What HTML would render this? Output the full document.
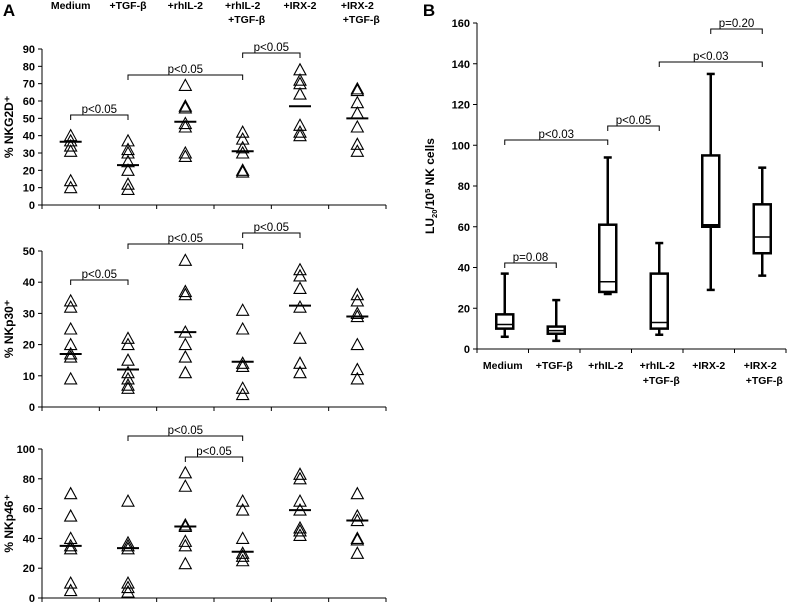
<!DOCTYPE html>
<html><head><meta charset="utf-8"><style>
body{margin:0;background:#fff;width:787px;height:602px;overflow:hidden}
svg{font-family:"Liberation Sans",sans-serif}
</style></head><body>
<svg id="s" width="787" height="602" viewBox="0 0 787 602" xmlns="http://www.w3.org/2000/svg"></svg>
<script>
const categories=["Medium","+TGF-β","+rhIL-2","+rhIL-2|+TGF-β","+IRX-2","+IRX-2|+TGF-β"];
const nkg2d=[[40,37,34,31,14,10],[37,32,30,25,20,12,9],[69,57,56,47,45,30,28],[42,38,33,30,20,19],[78,72,70,64,46,42,40],[67,66,59,53,45,35,31]];
const nkg2dMed=[36.5,23,48,31,57,50];
const nkp30=[[34,32,25,20,17,16,9],[22,20,15,11,9,7,6],[47,37,36,24,20,16,11],[31,25,14,13,6,4],[44,42,38,32,22,14,11],[36,34,30,29,20,12,9]];
const nkp30Med=[17,12,24,14.5,32.5,29];
const nkp46=[[70,55,40,35,33,10,5],[65,37,35,33,10,7,4],[84,75,49,48,38,35,23],[65,59,40,30,28,25],[83,80,65,59,47,45,42],[70,55,52,40,39,30]];
const nkp46Med=[35,33.5,48,31,59,52];
const boxMin=[6,4,27,7,29,36];
const boxQ1=[10,7.5,28,10,60,47];
const boxMed=[12,9,33,13,61,55];
const boxQ3=[17,11,61,37,95,71];
const boxMax=[37,24,94,52,135,89];
const yTicks1=[0,10,20,30,40,50,60,70,80,90];
const yTicks2=[0,10,20,30,40,50];
const yTicks3=[0,20,40,60,80,100];
const yTicksB=[0,20,40,60,80,100,120,140,160];

const svg=document.getElementById('s');const NS="http://www.w3.org/2000/svg";
function mk(t,a,txt){const e=document.createElementNS(NS,t);for(const k in a)e.setAttribute(k,a[k]);if(txt!==undefined)e.textContent=txt;svg.appendChild(e);return e;}
function line(x1,y1,x2,y2,w){return mk('line',{x1,y1,x2,y2,stroke:'#000','stroke-width':w||1});}
function text(x,y,s,o){const e=mk('text',Object.assign({x,y,'font-size':10.5,'font-weight':'bold','text-anchor':'middle',fill:'#000'},o||{}),s);return e;}

// Panel A
const ax0=42,ax1=386,cw=(ax1-ax0)/6;
const xA=i=>ax0+cw*(i+0.5);
let e=text(9,16,'A',{'font-size':17});
categories.forEach((c,i)=>{c.split('|').forEach((p,j)=>{const t=text(xA(i)+(j?4:0),9+j*14,p);});});
function panel(vals,med,ticks,y0,yTop,max,ylab,br,name){
  const y=v=>y0-(y0-yTop)*v/max;
  line(ax0,y0,ax0,yTop);line(ax0,y0,ax1,y0);
  for(let i=0;i<=6;i++)line(ax0+cw*i,y0,ax0+cw*i,y0+4);
  ticks.forEach(t=>{line(ax0-4,y(t),ax0,y(t));const l=text(ax0-7,y(t)+4,t,{'text-anchor':'end','font-size':11});});
  const yl=text(0,0,ylab,{transform:`translate(13,${(y0+yTop)/2}) rotate(-90)`,'font-size':12});
  
  vals.forEach((arr,i)=>{arr.forEach(v=>{const cx=xA(i),cy=y(v);
    const p=mk('polygon',{points:`${cx-6},${cy+5} ${cx+6},${cy+5} ${cx},${cy-6}`,fill:'none',stroke:'#000','stroke-width':1.1});
    });
    const m=line(xA(i)-11,y(med[i]),xA(i)+11,y(med[i]),2);
    });
  br.forEach(b=>{const x1=xA(b[0]),x2=xA(b[1]),by=b[2];
    const g=mk('path',{d:`M${x1},${by+5}V${by}H${x2}V${by+5}`,fill:'none',stroke:'#000'});
    
    const t=text((x1+x2)/2,by-2,'p<0.05',{'font-weight':'normal','font-size':11.5});});
}
panel(nkg2d,nkg2dMed,yTicks1,205,49,90,'% NKG2D⁺',[[0,1,115],[1,3,75],[3,4,53]],'nkg2d');
panel(nkp30,nkp30Med,yTicks2,407,251,50,'% NKp30⁺',[[0,1,280],[1,3,244],[3,4,233]],'nkp30');
panel(nkp46,nkp46Med,yTicks3,598,449,100,'% NKp46⁺',[[1,3,436],[2,3,457]],'nkp46');

// Panel B
const bx0=477,bx1=786,bw=(bx1-bx0)/6,by0=349,byT=23;
const xB=i=>bx0+bw*(i+0.5);const yB=v=>by0-(by0-byT)*v/160;
e=text(429,16,'B',{'font-size':17});
line(bx0,by0,bx0,byT);line(bx0,by0,bx1,by0);
for(let i=0;i<=6;i++)line(bx0+bw*i,by0,bx0+bw*i,by0+4);
yTicksB.forEach(t=>{line(bx0-4,yB(t),bx0,yB(t));const l=text(bx0-7,yB(t)+4,t,{'text-anchor':'end','font-size':11});});
const yt=mk('text',{transform:`translate(434,186) rotate(-90)`,'font-size':12,'font-weight':'bold','text-anchor':'middle'});
yt.innerHTML='LU<tspan font-size="7.5" dy="3">20</tspan><tspan dy="-3">/10</tspan><tspan font-size="7.5" dy="-4">5</tspan><tspan dy="4"> NK cells</tspan>';

categories.forEach((c,i)=>{c.split('|').forEach((p,j)=>{const t=text(xB(i)+(j?4:0),369+j*15,p);});});
categories.forEach((c,i)=>{const cx=xB(i)+2;
  let w=line(cx,yB(boxMax[i]),cx,yB(boxQ3[i]),2.5);
  w=line(cx,yB(boxQ1[i]),cx,yB(boxMin[i]),2.5);
  line(cx-4,yB(boxMax[i]),cx+4,yB(boxMax[i]),2.5);line(cx-4,yB(boxMin[i]),cx+4,yB(boxMin[i]),2.5);
  const r=mk('rect',{x:cx-8.5,y:yB(boxQ3[i]),width:17,height:yB(boxQ1[i])-yB(boxQ3[i]),fill:'#fff',stroke:'#000','stroke-width':2.5});
  
  const m=line(cx-8.5,yB(boxMed[i]),cx+8.5,yB(boxMed[i]),1.5);
});
const bBr=[[0,1,263,'p=0.08'],[0,2,140,'p<0.03'],[2,3,126,'p<0.05'],[3,5,62,'p<0.03'],[4,5,29,'p=0.20']];
bBr.forEach(b=>{const x1=xB(b[0])+2,x2=xB(b[1])+2,by=b[2];
  const g=mk('path',{d:`M${x1},${by+5}V${by}H${x2}V${by+5}`,fill:'none',stroke:'#000'});
  
  const t=text((x1+x2)/2,by-2,b[3],{'font-weight':'normal','font-size':11.5});});
</script>
</body></html>
